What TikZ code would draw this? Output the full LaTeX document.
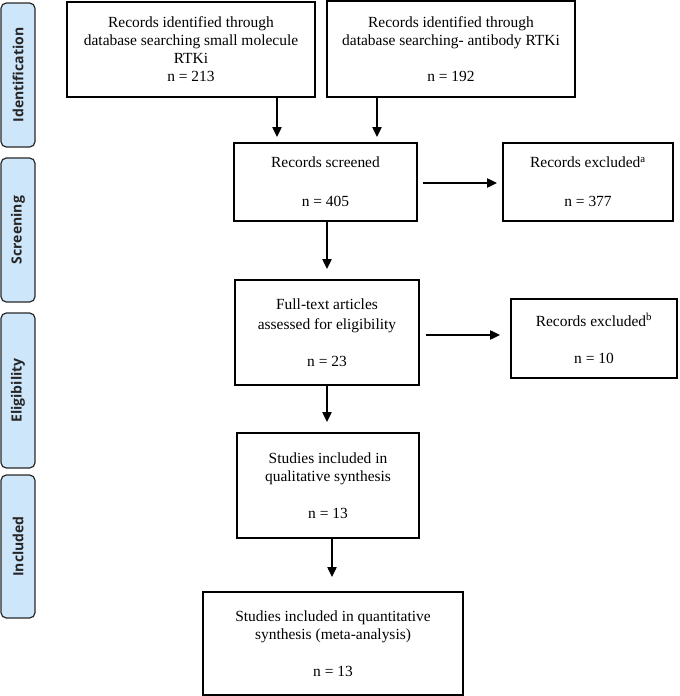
\documentclass[tikz,border=0pt]{standalone}
\usepackage{fontspec}
\setmainfont{Liberation Serif}
\newfontfamily\labfont{Open Sans}
\usetikzlibrary{arrows.meta}
\definecolor{phase}{RGB}{206,230,249}
\definecolor{phaseline}{RGB}{40,40,40}
\tikzset{
  box/.style={draw=black, line width=1.1pt, align=center, inner sep=0pt,
    font=\fontsize{11.6}{13.5}\selectfont},
  phasebox/.style={draw=phaseline, fill=phase, line width=0.9pt, rounded corners=4pt,
    rotate=90, minimum height=25.5pt, inner sep=0pt,
    font=\labfont\bfseries\fontsize{10.5}{12}\selectfont, text=black!85},
  arr/.style={line width=1pt, -{Triangle[width=7pt,length=7.5pt]}}
}
\begin{document}
\begin{tikzpicture}[x=0.75pt,y=-0.75pt]
\useasboundingbox (0,0) rectangle (680,696);
% phase labels
\node[phasebox, minimum width=108pt] (pid) at (18,75) {Identification};
\node[phasebox, minimum width=108pt] (psc) at (18,230) {Screening};
\node[phasebox, minimum width=116.25pt] (pel) at (18,390.5) {Eligibility};
\node[phasebox, minimum width=107.25pt] (pin) at (18,546.5) {Included};
% boxes
\node[box, minimum width=186pt, minimum height=71.25pt] (b1) at (191,49.5)
  {Records identified through\\database searching small molecule\\RTKi\\n = 213};
\node[box, minimum width=186pt, minimum height=72pt] (b2) at (451,49)
  {Records identified through\\database searching- antibody RTKi\\[14pt]n = 192};
\node[box, minimum width=137.25pt, minimum height=58.5pt] (scr) at (325.5,182)
  {Records screened\\[15.75pt]n = 405};
\node[box, minimum width=127.5pt, minimum height=58.5pt] (exa) at (588,182)
  {Records excluded\textsuperscript{a}\\[15.75pt]n = 377};
\node[box, minimum width=138pt, minimum height=78.75pt] (ft) at (327,332.5)
  {Full-text articles\\[1.5pt]assessed for eligibility\\[14pt]n = 23};
\node[box, minimum width=124.5pt, minimum height=59.25pt] (exb) at (594,338.5)
  {Records excluded\textsuperscript{b}\\[14pt]n = 10};
\node[box, minimum width=136.5pt, minimum height=78.75pt] (ql) at (328,485.5)
  {Studies included in\\qualitative synthesis\\[14pt]n = 13};
\node[box, minimum width=195pt, minimum height=77.25pt] (qn) at (333,643.5)
  {Studies included in quantitative\\synthesis (meta-analysis)\\[14pt]n = 13};
% connector end points
\coordinate (t1) at (277,137);
\coordinate (t2) at (377,137);
\coordinate (t3) at (327,269);
\coordinate (s4) at (423,183);
\coordinate (t4) at (497,183);
\coordinate (s5) at (426,335);
\coordinate (t5) at (500,335);
\coordinate (t6) at (327,422);
\coordinate (t7) at (332,577);
% connectors
\draw[arr] (b1.south -| t1) -- (t1);
\draw[arr] (b2.south -| t2) -- (t2);
\draw[arr] (scr.south -| t3) -- (t3);
\draw[arr] (s4) -- (t4);
\draw[arr] (s5) -- (t5);
\draw[arr] (ft.south -| t6) -- (t6);
\draw[arr] (ql.south -| t7) -- (t7);
\end{tikzpicture}
\end{document}
